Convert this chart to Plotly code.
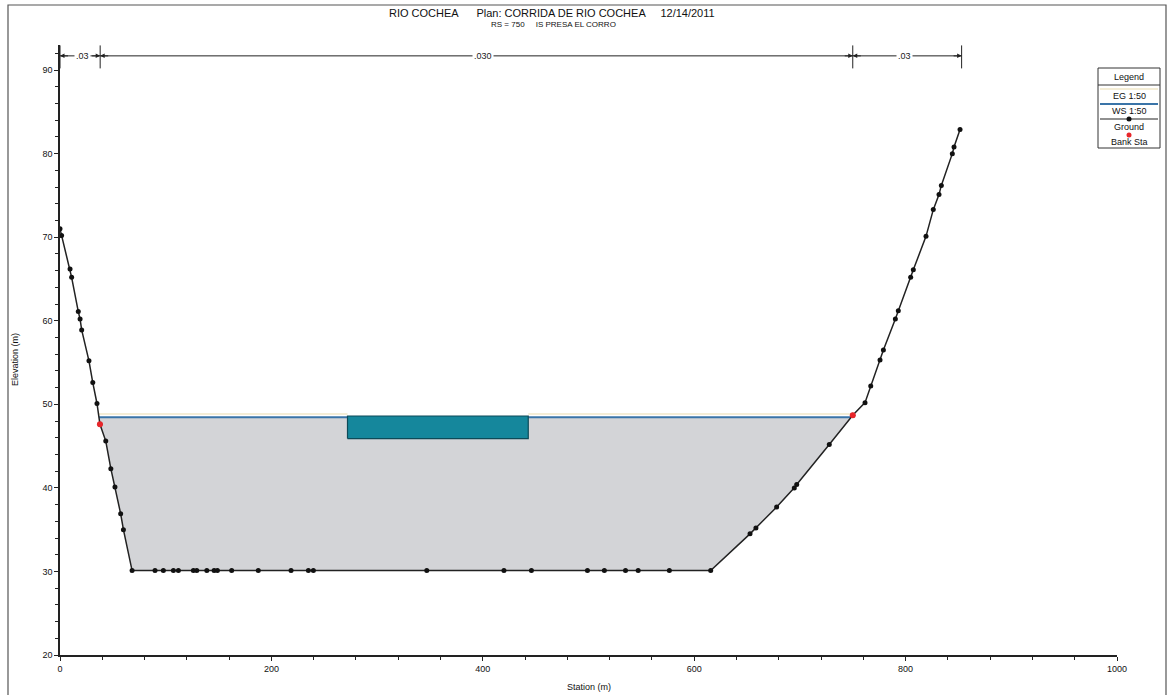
import numpy as np
import plotly.graph_objects as go

# ---------------- data ----------------
ground_sta = [0, 1.5, 9.5, 11, 17.3, 19, 20.5, 27.4, 31, 35, 37.8, 43.3, 48.1, 52, 57.4, 60, 68.2,
              89.9, 97.8, 107.3, 112, 126.2, 129.4, 138.9, 145.8, 148.9, 162.4, 187.6, 218.6, 235, 239.7,
              347, 420, 446, 499, 515, 535, 547, 576.5, 615.6,
              652.8, 658.4, 678, 694.7, 697, 727.8, 750, 761.6, 767, 775.8, 779, 790.3, 793.1,
              804.8, 807.3, 819.3, 826.2, 831.6, 833.8, 844.2, 845.8, 851.5]
ground_elev = [71.0, 70.2, 66.2, 65.2, 61.1, 60.2, 58.9, 55.2, 52.6, 50.1, 47.6, 45.6, 42.3, 40.1, 36.9, 35.0, 30.1,
               30.1, 30.1, 30.1, 30.1, 30.1, 30.1, 30.1, 30.1, 30.1, 30.1, 30.1, 30.1, 30.1, 30.1,
               30.1, 30.1, 30.1, 30.1, 30.1, 30.1, 30.1, 30.1, 30.1,
               34.5, 35.2, 37.7, 40.0, 40.4, 45.2, 48.7, 50.2, 52.2, 55.3, 56.5, 60.2, 61.2,
               65.2, 66.1, 70.1, 73.3, 75.1, 76.2, 80.0, 80.8, 82.9]
bank_sta = [37.8, 750]
bank_elev = [47.6, 48.7]
ws_elev = 48.45
eg_elev = 48.85
block_sta = [272, 443]
block_elev = [45.9, 48.6]
n_breaks = [0, 38, 750, 853]
n_labels = [".03", ".030", ".03"]
n_label_sta = [21, 400, 799]

title1 = "RIO COCHEA      Plan: CORRIDA DE RIO COCHEA     12/14/2011"
title2 = "RS = 750     IS PRESA EL CORRO"
legend_items = ["Legend", "EG 1:50", "WS 1:50", "Ground", "Bank Sta"]

# ---------------- geometry helpers ----------------
gs = np.array(ground_sta, float)
ge = np.array(ground_elev, float)

def crossing(i0, i1, level):
    return gs[i0] + (level - ge[i0]) * (gs[i1] - gs[i0]) / (ge[i1] - ge[i0])

below = np.where(ge <= ws_elev)[0]
iL, iR = below[0], below[-1]
xl = crossing(iL - 1, iL, ws_elev)
xr = crossing(iR, iR + 1, ws_elev)
fill_x = [xl] + list(gs[iL:iR + 1]) + [xr, xl]
fill_y = [ws_elev] + list(ge[iL:iR + 1]) + [ws_elev, ws_elev]

FONT = "Liberation Sans Narrow, Liberation Sans, Arial, sans-serif"

fig = go.Figure()
fig.add_trace(go.Scatter(x=fill_x, y=fill_y, fill="toself", fillcolor="#d3d4d7",
                         line=dict(width=0), mode="lines", hoverinfo="skip", showlegend=False))
fig.add_trace(go.Scatter(x=[xl, block_sta[0], None, block_sta[1], xr],
                         y=[eg_elev, eg_elev, None, eg_elev, eg_elev], mode="lines",
                         line=dict(color="#f4edd6", width=2), showlegend=False))
fig.add_trace(go.Scatter(x=[xl, block_sta[0], None, block_sta[1], xr],
                         y=[ws_elev, ws_elev, None, ws_elev, ws_elev], mode="lines",
                         line=dict(color="#3a74a8", width=2.2), showlegend=False))
fig.add_trace(go.Scatter(x=[block_sta[0], block_sta[1], block_sta[1], block_sta[0], block_sta[0]],
                         y=[block_elev[0], block_elev[0], block_elev[1], block_elev[1], block_elev[0]],
                         fill="toself", fillcolor="#15879c", mode="lines",
                         line=dict(color="#0d4a58", width=1.2), showlegend=False))
fig.add_trace(go.Scatter(x=ground_sta, y=ground_elev, mode="lines+markers",
                         line=dict(color="#222222", width=1.5),
                         marker=dict(color="#111111", size=5), showlegend=False))
fig.add_trace(go.Scatter(x=bank_sta, y=bank_elev, mode="markers",
                         marker=dict(color="#e8262a", size=6), showlegend=False))

# ---------- n-value dimension line ----------
dim_y = 91.7
shapes = []
annotations = []
for b in n_breaks:
    shapes.append(dict(type="line", xref="x", yref="y", x0=b, x1=b, y0=90.2, y1=92.95,
                       line=dict(color="#222", width=1)))
for i, lab in enumerate(n_labels):
    a, b = n_breaks[i], n_breaks[i + 1]
    shapes.append(dict(type="line", xref="x", yref="y", x0=a, x1=b, y0=dim_y, y1=dim_y,
                       line=dict(color="#222", width=1)))
    for end, tail in ((a, a + 9), (b, b - 9)):
        annotations.append(dict(x=end, y=dim_y, ax=tail, ay=dim_y, axref="x", ayref="y",
                                xref="x", yref="y", text="", showarrow=True, arrowhead=2,
                                arrowsize=0.9, arrowwidth=1, arrowcolor="#222"))
    annotations.append(dict(x=n_label_sta[i], y=dim_y, xref="x", yref="y", text=lab,
                            showarrow=False, bgcolor="white", borderpad=1,
                            xanchor="center", yanchor="middle",
                            font=dict(family=FONT, size=9, color="#222")))

# ---------- titles ----------
W, H = 1172, 695
L, R, T, B = 60, 55, 45, 40
pw, ph = W - L - R, H - T - B

def px(x):
    return (x - L) / pw

def py(y):
    return (H - B - y) / ph

def label(txt, x, y, size=9, angle=0):
    annotations.append(dict(x=x, y=y, xref="paper", yref="paper", text=txt, showarrow=False,
                            xanchor="center", yanchor="middle", textangle=angle,
                            font=dict(family=FONT, size=size, color="#111")))

label(title1, px(552), py(13), 11)
label(title2, px(553), py(25), 8)
label("Elevation (m)", px(15), py(360), 9, -90)
label("Station (m)", 0.5, py(687), 9)

# ---------- outer frame ----------
shapes.append(dict(type="rect", xref="paper", yref="paper", x0=px(8), x1=px(1166), y0=py(720), y1=py(5),
                   line=dict(color="#555", width=1.2), fillcolor="rgba(0,0,0,0)", layer="below"))

# ---------- custom legend ----------
lx0, lx1 = 1098, 1160
lcm = (lx0 + lx1) / 2
shapes.append(dict(type="rect", xref="paper", yref="paper", x0=px(lx0), x1=px(lx1), y0=py(148), y1=py(68),
                   line=dict(color="#333", width=1), fillcolor="white"))
shapes.append(dict(type="line", xref="paper", yref="paper", x0=px(lx0), x1=px(lx1), y0=py(85), y1=py(85),
                   line=dict(color="#333", width=1)))
shapes.append(dict(type="line", xref="paper", yref="paper", x0=px(lx0 + 2), x1=px(lx1 - 2), y0=py(89), y1=py(89),
                   line=dict(color="#f4edd6", width=2)))
shapes.append(dict(type="line", xref="paper", yref="paper", x0=px(lx0 + 2), x1=px(lx1 - 2), y0=py(104), y1=py(104),
                   line=dict(color="#3a74a8", width=2)))
shapes.append(dict(type="line", xref="paper", yref="paper", x0=px(lx0 + 2), x1=px(lx1 - 2), y0=py(119), y1=py(119),
                   line=dict(color="#222", width=1.2)))
shapes.append(dict(type="circle", xref="paper", yref="paper", x0=px(lcm - 2.5), x1=px(lcm + 2.5),
                   y0=py(121.5), y1=py(116.5), line=dict(color="#111", width=0), fillcolor="#111"))
shapes.append(dict(type="circle", xref="paper", yref="paper", x0=px(lcm - 2.5), x1=px(lcm + 2.5),
                   y0=py(137.5), y1=py(132.5), line=dict(color="#e8262a", width=0), fillcolor="#e8262a"))
for txt, yy in zip(legend_items, (77, 96, 111, 127, 142)):
    label(txt, px(lcm), py(yy), 9)

fig.update_layout(
    width=W, height=H,
    margin=dict(l=L, r=R, t=T, b=B),
    paper_bgcolor="white", plot_bgcolor="white",
    shapes=shapes, annotations=annotations,
    showlegend=False,
    xaxis=dict(range=[0, 1000], tickvals=[0, 200, 400, 600, 800, 1000], showgrid=False, zeroline=False,
               showline=True, linecolor="#222", linewidth=1.5, ticks="outside", ticklen=4, tickcolor="#222",
               minor=dict(dtick=40, ticks="outside", ticklen=3, tickcolor="#222", showgrid=False),
               tickfont=dict(family=FONT, size=9, color="#111")),
    yaxis=dict(range=[20, 93], tickvals=[20, 30, 40, 50, 60, 70, 80, 90], showgrid=False, zeroline=False,
               showline=True, linecolor="#222", linewidth=1.5, ticks="outside", ticklen=4, tickcolor="#222",
               minor=dict(dtick=2, ticks="outside", ticklen=3, tickcolor="#222", showgrid=False),
               tickfont=dict(family=FONT, size=9, color="#111")),
)

fig.write_html("out.html", config={"displayModeBar": False},
               post_script="document.body.style.margin='0px';")
